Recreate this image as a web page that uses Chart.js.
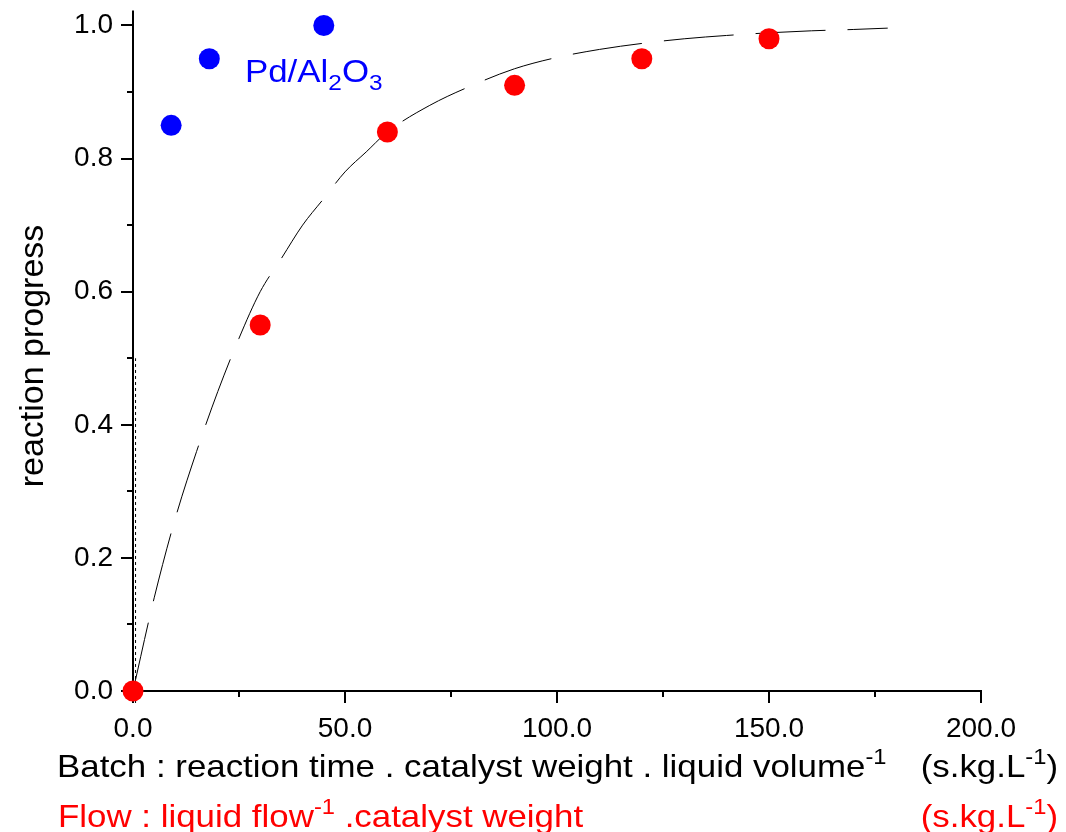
<!DOCTYPE html>
<html>
<head>
<meta charset="utf-8">
<script src="https://cdn.jsdelivr.net/npm/chart.js@4.4.0/dist/chart.umd.min.js"></script>
<style>
html, body { margin: 0; padding: 0; background: #fff; }
#wrap { width: 1066px; height: 832px; }
</style>
</head>
<body>
<div id="wrap"><canvas id="chart" width="1066" height="832"></canvas></div>
<script>
// Pd/Al2O3 batch runs (blue)
var batchX = [9, 18, 45];
var batchY = [0.85, 0.95, 1.0];
// flow runs (red)
var flowX = [0, 30, 60, 90, 120, 150];
var flowY = [0, 0.55, 0.84, 0.91, 0.95, 0.98];
// dashed fit curve
var fitX = [0, 5, 10, 15, 20, 25, 30, 35, 40, 45, 50, 55, 60, 70, 80, 90, 100, 110, 120, 130, 140, 150, 160, 170, 178];
var fitY = [0, 0.14, 0.26, 0.36, 0.45, 0.53, 0.60, 0.65, 0.70, 0.74, 0.78, 0.81, 0.84, 0.88, 0.91, 0.935, 0.952, 0.964, 0.973, 0.98, 0.985, 0.989, 0.992, 0.994, 0.996];
// short dotted mark up from the origin
var markX = [0.6, 0.6];
var markY = [-0.018, 0.5];

var xTicks = [0, 50, 100, 150, 200];
var xMinor = [25, 75, 125, 175];
var yTicks = [0, 0.2, 0.4, 0.6, 0.8, 1.0];
var yMinor = [0.1, 0.3, 0.5, 0.7, 0.9];

var FONT = "'Liberation Sans', Arial, sans-serif";

var toPts = function (xs, ys) {
    return xs.map(function (x, i) { return { x: x, y: ys[i] }; });
};

// text with super/subscripts: parts = [[text, mode]], mode 1 = sup, -1 = sub
var drawRich = function (ctx, parts, x, y, size, color, align, stretch) {
    var sizeOf = function (m) { return m === 1 ? size * 0.68 : (m === -1 ? size * 0.7 : size); };
    ctx.save();
    ctx.fillStyle = color;
    ctx.textBaseline = 'alphabetic';
    ctx.textAlign = 'left';
    var w = 0;
    parts.forEach(function (p) {
        ctx.font = sizeOf(p[1]) + 'px ' + FONT;
        w += ctx.measureText(p[0]).width;
    });
    ctx.translate(x, y);
    ctx.scale(stretch, 1);
    var cx = align === 'right' ? -w : 0;
    parts.forEach(function (p) {
        ctx.font = sizeOf(p[1]) + 'px ' + FONT;
        var dy = p[1] === 1 ? -size * 0.42 : (p[1] === -1 ? size * 0.25 : 0);
        ctx.fillText(p[0], cx, dy);
        cx += ctx.measureText(p[0]).width;
    });
    ctx.restore();
};

var axesPlugin = {
    id: 'axes',
    beforeDatasetsDraw: function (chart) {
        var ctx = chart.ctx, xs = chart.scales.x, ys = chart.scales.y;
        var a = chart.chartArea;
        ctx.save();
        ctx.strokeStyle = '#000';
        ctx.lineWidth = 2;
        ctx.beginPath();
        ctx.moveTo(a.left, a.top);
        ctx.lineTo(a.left, a.bottom + 1);
        ctx.moveTo(a.left - 1, a.bottom);
        ctx.lineTo(a.right + 1, a.bottom);
        xTicks.forEach(function (v) {
            var px = Math.round(xs.getPixelForValue(v));
            ctx.moveTo(px, a.bottom); ctx.lineTo(px, a.bottom + 12);
        });
        xMinor.forEach(function (v) {
            var px = Math.round(xs.getPixelForValue(v));
            ctx.moveTo(px, a.bottom); ctx.lineTo(px, a.bottom + 6);
        });
        yTicks.forEach(function (v) {
            var py = Math.round(ys.getPixelForValue(v));
            ctx.moveTo(a.left, py); ctx.lineTo(a.left - 12, py);
        });
        yMinor.forEach(function (v) {
            var py = Math.round(ys.getPixelForValue(v));
            ctx.moveTo(a.left, py); ctx.lineTo(a.left - 6, py);
        });
        ctx.stroke();
        ctx.restore();
    },
    afterDraw: function (chart) {
        var ctx = chart.ctx, xs = chart.scales.x, ys = chart.scales.y;
        // y title
        ctx.save();
        ctx.translate(43, 356);
        ctx.rotate(-Math.PI / 2);
        ctx.font = '34px ' + FONT;
        ctx.fillStyle = '#000';
        ctx.textAlign = 'center';
        ctx.textBaseline = 'alphabetic';
        ctx.fillText('reaction progress', 0, 0);
        ctx.restore();
        // x titles
        drawRich(ctx, [['Batch : reaction time . catalyst weight . liquid volume', 0], ['-1', 1]], 57, 777, 32, '#000', 'left', 1.09);
        drawRich(ctx, [['(s.kg.L', 0], ['-1', 1], [')', 0]], 1058, 777, 32, '#000', 'right', 1.09);
        drawRich(ctx, [['Flow : liquid flow', 0], ['-1', 1], [' .catalyst weight', 0]], 58, 827, 32, '#ff0000', 'left', 1.09);
        drawRich(ctx, [['(s.kg.L', 0], ['-1', 1], [')', 0]], 1058, 827, 32, '#ff0000', 'right', 1.09);
        // catalyst label
        drawRich(ctx, [['Pd/Al', 0], ['2', -1], ['O', 0], ['3', -1]],
            xs.getPixelForValue(26.4), ys.getPixelForValue(0.915), 32, '#0000ff', 'left', 1.09);
    }
};

var ctx = document.getElementById('chart');
var chart = new Chart(ctx, {
    type: 'scatter',
    data: {
        datasets: [
            {
                label: 'Pd/Al2O3',
                data: toPts(batchX, batchY),
                backgroundColor: '#0000ff',
                pointRadius: 10.5,
                pointBorderWidth: 0,
                showLine: false,
                clip: false
            },
            {
                label: 'Flow',
                data: toPts(flowX, flowY),
                backgroundColor: '#ff0000',
                pointRadius: 10.5,
                pointBorderWidth: 0,
                showLine: false,
                clip: false
            },
            {
                label: 'fit',
                data: toPts(fitX, fitY),
                showLine: true,
                borderColor: '#000',
                borderWidth: 1,
                borderDash: [70, 22],
                cubicInterpolationMode: 'monotone',
                pointRadius: 0,
                clip: false
            },
            {
                label: 'mark',
                data: toPts(markX, markY),
                showLine: true,
                borderColor: '#000',
                borderWidth: 1,
                borderDash: [3, 3],
                pointRadius: 0,
                clip: false
            }
        ]
    },
    options: {
        responsive: false,
        animation: false,
        devicePixelRatio: 1,
        layout: { padding: { top: 8, right: 85, bottom: 0, left: 0 } },
        plugins: {
            legend: { display: false },
            tooltip: { enabled: false }
        },
        scales: {
            x: {
                type: 'linear',
                min: 0,
                max: 200,
                grid: { display: false, drawTicks: false },
                border: { display: false },
                ticks: {
                    color: '#000',
                    font: { size: 28, family: FONT },
                    padding: 21,
                    maxRotation: 0,
                    callback: function (v) { return v.toFixed(1); }
                },
                afterBuildTicks: function (s) { s.ticks = xTicks.map(function (v) { return { value: v }; }); },
                afterFit: function (s) {
                    s.height = 141;
                    s.paddingLeft = 0;
                    s.paddingRight = 0;
                }
            },
            y: {
                type: 'linear',
                min: 0,
                max: 1.0225,
                grid: { display: false, drawTicks: false },
                border: { display: false },
                ticks: {
                    color: '#000',
                    font: { size: 28, family: FONT },
                    padding: 20,
                    callback: function (v) { return v.toFixed(1); }
                },
                afterBuildTicks: function (s) { s.ticks = yTicks.map(function (v) { return { value: v }; }); },
                afterFit: function (s) {
                    s.width = 133;
                    s.paddingTop = 0;
                    s.paddingBottom = 0;
                }
            }
        }
    },
    plugins: [axesPlugin]
});
</script>
</body>
</html>
